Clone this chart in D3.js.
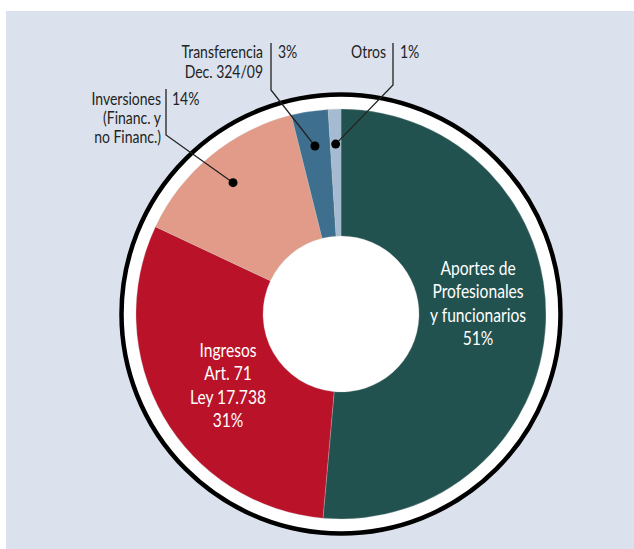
<!DOCTYPE html>
<html>
<head>
<meta charset="utf-8">
<script src="https://cdn.jsdelivr.net/npm/d3@7"></script>
<style>
  body { margin: 0; background: #fff; }
  svg text { font-family: Lato, "Open Sans", sans-serif; }
</style>
</head>
<body>
<svg id="chart"></svg>
<script>
// slices, clockwise from 12 o'clock
var categories = ["Aportes", "Ingresos", "Inversiones", "Transferencia", "Otros"];
var values = [51.4, 30.6, 14.1, 2.9, 1.0];
var labels = [
  ["Aportes de", "Profesionales", "y funcionarios", "51%"],
  ["Ingresos", "Art. 71", "Ley 17.738", "31%"],
  ["Inversiones", "(Financ. y", "no Financ.)"],
  ["Transferencia", "Dec. 324/09"],
  ["Otros"]
];
var pcts = ["51%", "31%", "14%", "3%", "1%"];
var colors = ["#22524f", "#ba1229", "#e39b89", "#3e6f8f", "#a4bbd1"];

var width = 634, height = 549;
var cx = 341, cy = 314;
var outerR = 205, innerR = 78;
var squeeze = 0.8; // the original face is a condensed one

var svg = d3.select("#chart")
  .attr("width", width)
  .attr("height", height);

svg.append("rect")
  .attr("x", 6).attr("y", 11)
  .attr("width", width - 6).attr("height", height - 11)
  .attr("fill", "#dbe2ed");

var g = svg.append("g")
  .attr("transform", "translate(" + cx + "," + cy + ")");

// white band + black ring
g.append("circle")
  .attr("r", 219.5)
  .attr("fill", "#fff")
  .attr("stroke", "#000")
  .attr("stroke-width", 4.5);

var pie = d3.pie().sort(null).value(function(d) { return d; });
var arcs = pie(values);
var arc = d3.arc().innerRadius(innerR).outerRadius(outerR);
var dotArc = d3.arc().innerRadius(170).outerRadius(170);

g.selectAll(".slice")
  .data(arcs)
  .enter().append("path")
  .attr("class", "slice")
  .attr("d", arc)
  .attr("fill", function(d, i) { return colors[i]; })
  .attr("stroke", "#c9c9c9")
  .attr("stroke-width", 0.3);

function textBlock(parent, x, y, lines, anchor, size, lh, fill) {
  var t = parent.append("g")
    .attr("transform", "translate(" + x + "," + y + ") scale(" + squeeze + ",1)")
    .append("text")
    .attr("text-anchor", anchor)
    .attr("font-size", size)
    .attr("fill", fill);
  t.selectAll("tspan")
    .data(lines)
    .enter().append("tspan")
    .attr("x", 0)
    .attr("y", function(d, k) { return k * lh; })
    .text(function(d) { return d; });
  return t;
}

// labels inside the two big slices
var inside = [
  { i: 0, x: 137, y: -39 },
  { i: 1, x: -113, y: 43 }
];
inside.forEach(function(o) {
  textBlock(g, o.x, o.y, labels[o.i], "middle", 19.5, 23.5, "#fff");
});

// call-out labels for the small slices (page coords)
var callouts = [
  { i: 2, lx: 166, top: 89, bottom: 135, base: 105, lh: 19, gap: 5, pgap: 6 },
  { i: 3, lx: 271, top: 43, bottom: 90, base: 58, lh: 20, gap: 8, pgap: 7 },
  { i: 4, lx: 393, top: 43, bottom: 85, base: 58, lh: 20, gap: 7, pgap: 7 }
];
var ann = svg.append("g");
callouts.forEach(function(o) {
  var c = dotArc.centroid(arcs[o.i]);
  var dx = c[0] + cx, dy = c[1] + cy;
  ann.append("path")
    .attr("d", "M" + o.lx + "," + o.top + "L" + o.lx + "," + o.bottom + "L" + dx + "," + dy)
    .attr("fill", "none")
    .attr("stroke", "#222")
    .attr("stroke-width", 1.3);
  ann.append("circle")
    .attr("cx", dx).attr("cy", dy)
    .attr("r", 4.5)
    .attr("fill", "#000");
  textBlock(ann, o.lx - o.gap, o.base, labels[o.i], "end", 17.5, o.lh, "#222");
  textBlock(ann, o.lx + o.pgap, o.base, [pcts[o.i]], "start", 17.5, o.lh, "#222");
});
</script>
</body>
</html>
